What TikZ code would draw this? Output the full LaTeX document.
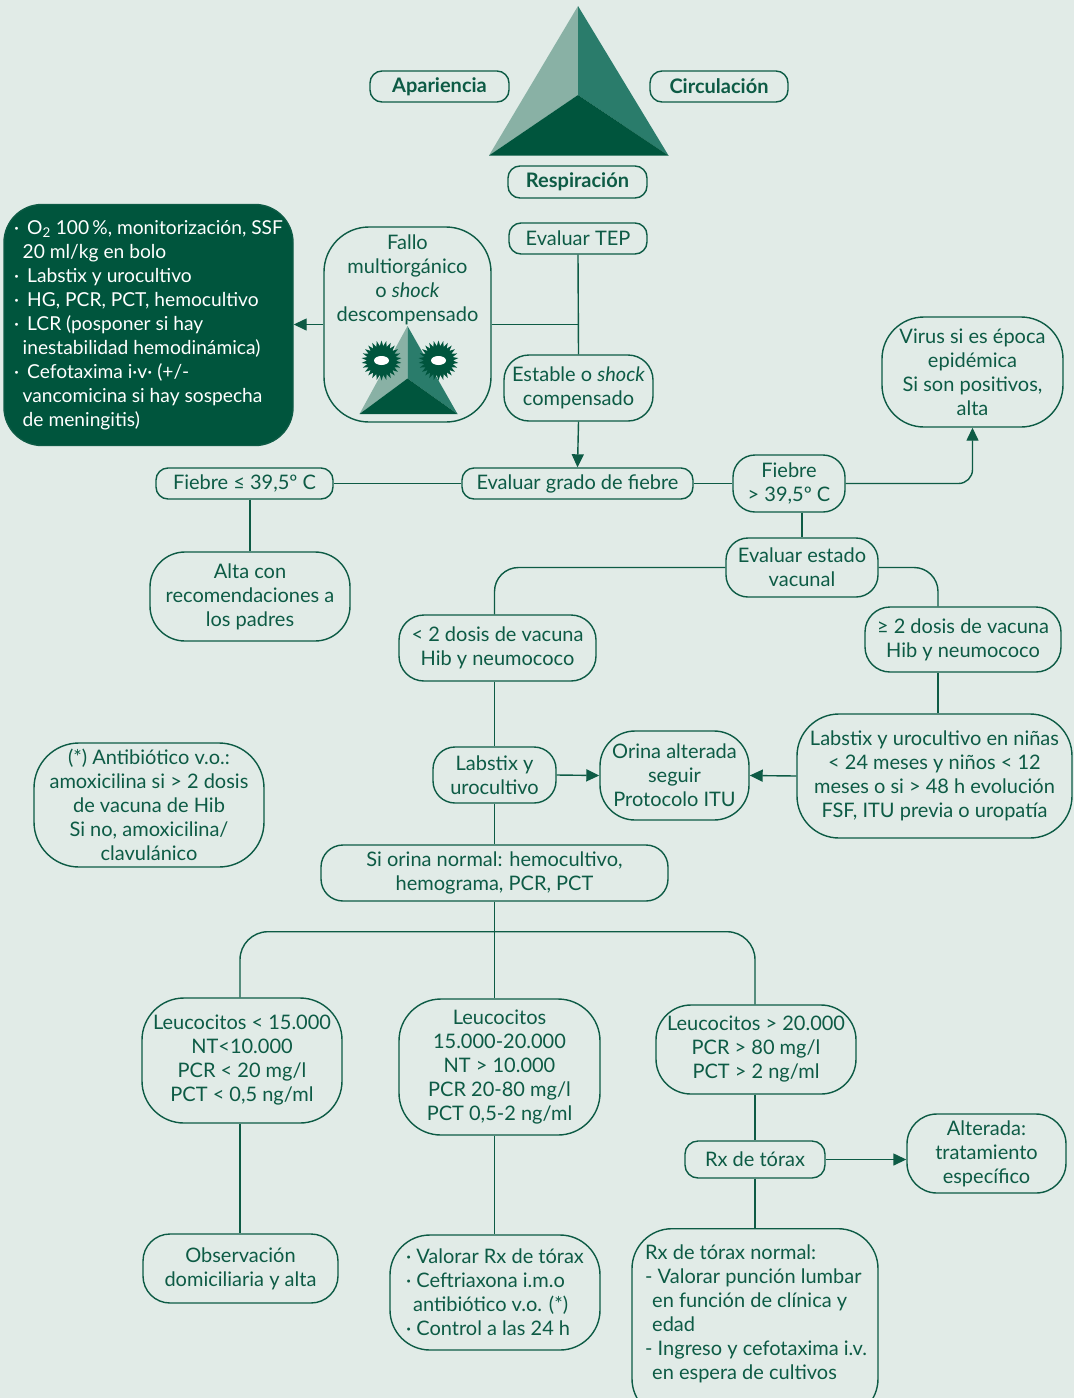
\documentclass[tikz,border=0pt]{standalone}
\usepackage{fontspec}
\setmainfont{Lato}
\usetikzlibrary{arrows.meta,shapes.geometric,calc}

\definecolor{bg}{HTML}{E1EBE7}
\definecolor{ln}{HTML}{0D5B45}
\definecolor{dk}{HTML}{00553D}
\definecolor{md}{HTML}{2A7C6B}
\definecolor{lt}{HTML}{89B1A5}

\newcommand{\fs}{\fontsize{20}{24}\selectfont}
\newcommand{\fsdark}{\fontsize{19.2}{24}\selectfont}

\tikzset{
  box/.style={draw=ln, line width=1.4pt, rounded corners=#1, inner sep=0pt,
    align=center, text=ln, font=\fs},
  box/.default=12pt,
  tag/.style={box, font=\fs\bfseries},
  conn/.style={draw=ln, line width=1.4pt},
  arr/.style={conn, -{Triangle[length=13pt,width=12pt]}},
}

\begin{document}
\begin{tikzpicture}[x=1pt,y=-1pt]
\clip (0,0) rectangle (1074,1398);
\fill[bg] (0,0) rectangle (1074,1398);
\useasboundingbox (0,0) rectangle (1074,1398);

% triangle of assessment
\fill[lt] (578,6) -- (578,95) -- (489,155.5) -- cycle;
\fill[md] (578,6) -- (668.5,155.5) -- (578,95) -- cycle;
\fill[dk] (489,155.5) -- (578,95) -- (668.5,155.5) -- cycle;

\node[tag, minimum width=139pt, minimum height=31pt] (ap) at (439.5,86.5) {Apariencia};
\node[tag, minimum width=138pt, minimum height=31pt] (ci) at (719,86.5) {Circulación};
\node[tag, minimum width=139pt, minimum height=32pt] (re) at (577.5,182) {Respiración};

% first decision
\node[box, minimum width=138pt, minimum height=31pt] (tep) at (578,238.5) {Evaluar TEP};
\node[box=45pt, minimum width=167pt, minimum height=195pt] (fallo) at (407.5,324.5) {};
\node[align=center, text=ln, font=\fs, inner sep=0pt] (fallotxt) at (407.5,280)
  {Fallo\\multiorgánico\\o \textit{shock}\\descompensado};

% small triangle with eyes
\fill[lt] (407.5,326) -- (407.5,378.5) -- (359.5,414) -- cycle;
\fill[md] (407.5,326) -- (457.5,414) -- (407.5,378.5) -- cycle;
\fill[dk] (359.5,414) -- (407.5,378.5) -- (457.5,414) -- cycle;
\node[star, star points=26, star point ratio=1.38, fill=dk, minimum size=40pt, inner sep=0pt] (eyeL) at (381.5,360.5) {};
\node[star, star points=26, star point ratio=1.38, fill=dk, minimum size=40pt, inner sep=0pt] (eyeR) at (438.5,360.5) {};
\node[ellipse, fill=white, minimum width=15pt, minimum height=9pt, inner sep=0pt] (pupL) at (eyeL) {};
\node[ellipse, fill=white, minimum width=15pt, minimum height=9pt, inner sep=0pt] (pupR) at (eyeR) {};

\node[box=38pt, fill=dk, text=white, font=\fsdark, align=left, minimum width=289pt, minimum height=241pt] (dark) at (148.5,325)
  {·\, O\textsubscript{2} 100\,\%, monitorización, SSF\\
   \hspace*{0.45em}20 ml/kg en bolo\\
   ·\, Labstix y urocultivo\\
   ·\, HG, PCR, PCT, hemocultivo\\
   ·\, LCR (posponer si hay\\
   \hspace*{0.45em}inestabilidad hemodinámica)\\
   ·\, Cefotaxima i·v· (+/-\\
   \hspace*{0.45em}vancomicina si hay sospecha\\
   \hspace*{0.45em}de meningitis)};

\node[box=25pt, minimum width=149pt, minimum height=66pt] (est) at (578.5,388)
  {Estable o \textit{shock}\\compensado};

% fever grade
\node[box, minimum width=231pt, minimum height=31pt] (grado) at (577.5,483.5) {Evaluar grado de fiebre};
\node[box, minimum width=177pt, minimum height=31pt] (fle) at (244.5,483.5) {Fiebre ≤ 39,5º C};
\node[box=35pt, minimum width=200pt, minimum height=89pt] (alta) at (250,596.5)
  {Alta con\\recomendaciones a\\los padres};
\node[box=22pt, minimum width=112pt, minimum height=57pt] (fg) at (789,483.5) {Fiebre\\> 39,5º C};
\node[box=42pt, minimum width=181pt, minimum height=110pt] (virus) at (972.5,372)
  {Virus si es época\\epidémica\\Si son positivos,\\alta};

% vaccination status
\node[box=22pt, minimum width=152pt, minimum height=59pt] (vac) at (802,567.5) {Evaluar estado\\vacunal};
\node[box=25pt, minimum width=197pt, minimum height=66pt] (lt2) at (497.5,648) {< 2 dosis de vacuna\\Hib y neumococo};
\node[box=25pt, minimum width=196pt, minimum height=65pt] (ge2) at (963,639.5) {≥ 2 dosis de vacuna\\Hib y neumococo};
\node[box=42pt, minimum width=275pt, minimum height=124pt] (lab2) at (934.5,776)
  {Labstix y urocultivo en niñas\\< 24 meses y niños < 12\\meses o si > 48 h evolución\\FSF, ITU previa o uropatía};
\node[box=35pt, minimum width=149pt, minimum height=89pt] (orina) at (674.5,775.5)
  {Orina alterada\\seguir\\Protocolo ITU};
\node[box=22pt, minimum width=123pt, minimum height=56pt] (labs) at (494.5,775) {Labstix y\\urocultivo};
\node[box=45pt, minimum width=230pt, minimum height=124pt] (anti) at (149,805)
  {(*) Antibiótico v.o.:\\amoxicilina si > 2 dosis\\de vacuna de Hib\\Si no, amoxicilina/\\clavulánico};
\node[box=22pt, minimum width=347pt, minimum height=56pt] (sio) at (494.5,873)
  {Si orina normal: hemocultivo,\\hemograma, PCR, PCT};

% laboratory results
\node[box=42pt, minimum width=200pt, minimum height=125pt] (ll) at (242,1060.5)
  {Leucocitos < 15.000\\NT<10.000\\PCR < 20 mg/l\\PCT < 0,5 ng/ml};
\node[box=42pt, minimum width=201pt, minimum height=136pt] (lm) at (499.5,1067)
  {Leucocitos\\15.000-20.000\\NT > 10.000\\PCR 20-80 mg/l\\PCT 0,5-2 ng/ml};
\node[box=35pt, minimum width=200pt, minimum height=89pt] (lr) at (756,1049.5)
  {Leucocitos > 20.000\\PCR > 80 mg/l\\PCT > 2 ng/ml};
\node[box=13pt, minimum width=140pt, minimum height=37pt] (rx) at (755,1159.5) {Rx de tórax};
\node[box=30pt, minimum width=159pt, minimum height=79pt] (alt) at (986.5,1153.5)
  {Alterada:\\tratamiento\\específico};
\node[box=27pt, minimum width=195pt, minimum height=69pt] (obs) at (240.5,1268.5)
  {Observación\\domiciliaria y alta};
\node[box=40pt, align=left, minimum width=210pt, minimum height=115pt] (vrx) at (495,1292.5)
  {· Valorar Rx de tórax\\
   · Ceftriaxona i.m.o\\
   \hspace*{0.35em}antibiótico v.o. (*)\\
   · Control a las 24 h};
\node[box=40pt, minimum width=246pt, minimum height=190pt, anchor=north] (rxn) at (755,1228) {};
\node[align=left, text=ln, font=\fs, inner sep=0pt, anchor=north west] (rxntxt) at (645,1245)
  {Rx de tórax normal:\\
   - Valorar punción lumbar\\
   \hspace*{0.35em}en función de clínica y\\
   \hspace*{0.35em}edad\\
   - Ingreso y cefotaxima i.v.\\
   \hspace*{0.35em}en espera de cultivos};

% helper points for off-centre connectors
\coordinate (ge2b) at ($(ge2.south)+(-25,0)$);
\coordinate (ge2t) at ($(ge2.north)+(-25,0)$);
\coordinate (llt) at ($(ll.north)+(-2,0)$);
\coordinate (llb) at ($(ll.south)+(-2,0)$);
\coordinate (split) at ($(sio.south)+(0,30)$);

% connectors
\draw[conn] (tep.south) -- (est.north);
\draw[conn] (fallo.east) -- (fallo.east -| tep.south);
\draw[arr] (fallo.west) -- (dark.east |- fallo.west);
\draw[arr] (est.south) -- (grado.north);
\draw[conn] (grado.west) -- (fle.east);
\draw[conn] (grado.east) -- (fg.west);
\draw[conn] (fle.south -| alta.north) -- (alta.north);
\draw[arr, rounded corners=14pt] (fg.east) -| (virus.south);
\draw[conn] (fg.south -| vac.north) -- (vac.north);
\draw[conn, rounded corners=24pt] (vac.west) -| (lt2.north -| labs.north);
\draw[conn, rounded corners=24pt] (vac.east) -| (ge2t);
\draw[conn] (ge2b) -- (ge2b |- lab2.north);
\draw[conn] (lt2.south -| labs.north) -- (labs.north);
\draw[arr] (labs.east) -- (orina.west);
\draw[arr] (lab2.west) -- (orina.east);
\draw[conn] (labs.south) -- (sio.north);
\draw[conn] (sio.south) -- (lm.north -| sio.south);
\draw[conn, rounded corners=28pt] (llt) |- (split) -| (lr.north -| rx.north);
\draw[conn] (llb) -- (llb |- obs.north);
\draw[conn] (lm.south -| sio.south) -- (vrx.north -| sio.south);
\draw[conn] (lr.south -| rx.north) -- (rx.north);
\draw[arr] (rx.east) -- (rx.east -| alt.west);
\draw[conn] (rx.south) -- (rxn.north);
\end{tikzpicture}
\end{document}
